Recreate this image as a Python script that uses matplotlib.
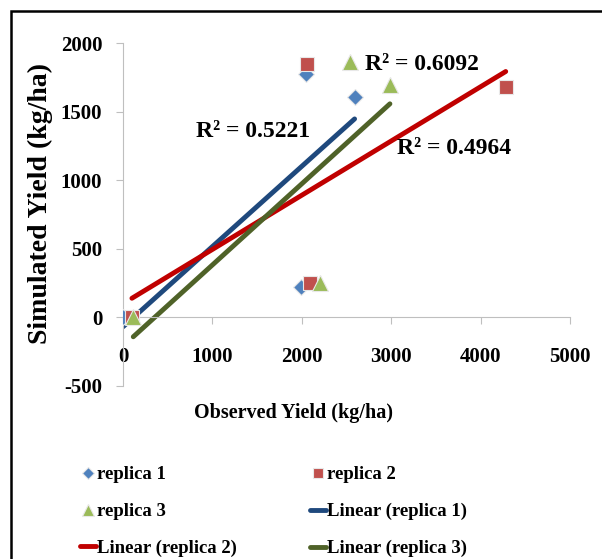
import numpy as np
import matplotlib
matplotlib.use("Agg")
import matplotlib.pyplot as plt
from matplotlib.patches import Rectangle

# observed vs simulated yield (kg/ha)
obs_r1 = [0, 2050, 2590, 1990]
sim_r1 = [0, 1775, 1610, 220]
obs_r2 = [100, 2060, 4280, 2095]
sim_r2 = [0, 1845, 1680, 250]
obs_r3 = [115, 2540, 2985, 2207]
sim_r3 = [0, 1863, 1693, 250]
r2_labels = ["R² = 0.5221", "R² = 0.4964", "R² = 0.6092"]
series_names = ["replica 1", "replica 2", "replica 3"]
x_ticks = [0, 1000, 2000, 3000, 4000, 5000]
y_ticks = [-500, 0, 500, 1000, 1500, 2000]

MARK_COL = ["#4F81BD", "#C0504D", "#9BBB59"]
LINE_COL = ["#1F497D", "#C00000", "#4F6228"]
MARKERS = ["D", "s", "^"]
MSIZE = [8, 10, 11]
FONT = "Liberation Serif"

plt.rcParams["font.family"] = FONT
plt.rcParams["font.weight"] = "bold"
plt.rcParams["axes.unicode_minus"] = False

fig = plt.figure(figsize=(6.02, 5.59), dpi=100)
ax = fig.add_axes([0.2043, 0.3095, 0.7427, 0.6135])

data = [(obs_r1, sim_r1), (obs_r2, sim_r2), (obs_r3, sim_r3)]
pts, fits = [], []
for i, (xo, ys) in enumerate(data):
    xo = np.array(xo, float); ys = np.array(ys, float)
    k, b = np.polyfit(xo, ys, 1)
    xx = np.array([xo.min(), xo.max()])
    ln, = ax.plot(xx, k * xx + b, color=LINE_COL[i], lw=3.5,
                  solid_capstyle="round", zorder=2)
    fits.append(ln)
for i, (xo, ys) in enumerate(data):
    p, = ax.plot(xo, ys, MARKERS[i], color=MARK_COL[i], ms=MSIZE[i],
                 mec="#e8e8e8", mew=0.8, zorder=3 + i)
    pts.append(p)

# R² labels (blue, red, green)
ax.text(811, 1358, r2_labels[0], fontsize=17, va="center", ha="left")
ax.text(3067, 1234, r2_labels[1], fontsize=17, va="center", ha="left")
ax.text(2711, 1847, r2_labels[2], fontsize=17, va="center", ha="left")

ax.set_xlim(0, 5000)
ax.set_ylim(-500, 2000)
ax.set_xticks(x_ticks)
ax.set_yticks(y_ticks)
for s in ["top", "right"]:
    ax.spines[s].set_visible(False)
ax.spines["bottom"].set_position(("data", 0))
ax.spines["bottom"].set_color("#BFBFBF")
ax.spines["left"].set_color("#BFBFBF")
ax.tick_params(axis="x", direction="out", length=5, color="#BFBFBF",
               labelsize=15, pad=16)
ax.tick_params(axis="y", direction="out", length=5, color="#BFBFBF",
               labelsize=15, pad=10)
for t in ax.get_xticklabels() + ax.get_yticklabels():
    t.set_fontweight("bold")

fig.text(40 / 602, 1 - 203 / 559, "Simulated Yield (kg/ha)", rotation=90,
         fontsize=20, ha="center", va="center")
fig.text(293 / 602, 1 - 413 / 559, "Observed Yield (kg/ha)",
         fontsize=14.5, ha="center", va="center")

handles = [pts[0], pts[2], fits[1], pts[1], fits[0], fits[2]]
labels = [series_names[0], series_names[2], "Linear (" + series_names[1] + ")",
          series_names[1], "Linear (" + series_names[0] + ")",
          "Linear (" + series_names[2] + ")"]
fig.legend(handles, labels, ncol=2, loc="upper left",
           bbox_to_anchor=(67 / 602, 1 - 453 / 559), frameon=False,
           handlelength=0.85, handletextpad=0.05,
           columnspacing=3.9, labelspacing=1.05, markerscale=0.75,
           borderpad=0.2,
           prop={"family": FONT, "weight": "bold", "size": 13.5})

fig.patches.append(Rectangle((11 / 602, -0.05), 1.2, 1 - 10.5 / 559 + 0.05,
                             transform=fig.transFigure, fill=False,
                             edgecolor="black", lw=1.8))

fig.savefig("out.png", dpi=100)
